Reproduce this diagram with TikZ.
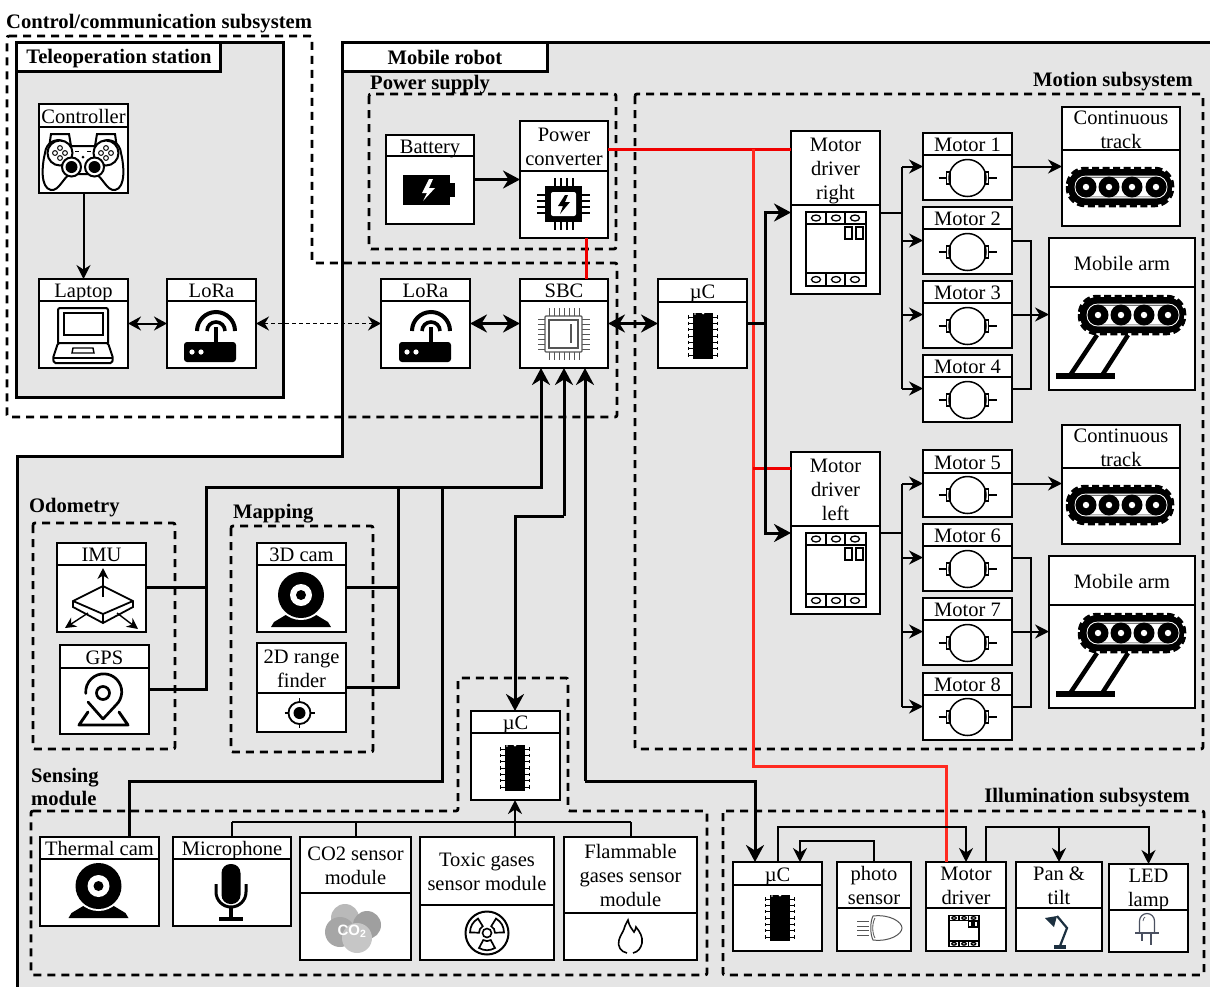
\documentclass[tikz,border=0pt]{standalone}
\usepackage{fontspec}
\setmainfont{Liberation Serif}
\newfontfamily\iconfont{Liberation Sans}
\usetikzlibrary{arrows.meta,calc}

% block with a title row on top
\newcommand{\block}[7]{%
    \node[blockbox, minimum width={(#4-#2)*1pt}, minimum height={(#5-#3)*1pt}]
        (#1) at ({(#2+#4)/2},{(#3+#5)/2}) {};
    \draw[rowline] (#2,#6) -- (#4,#6);
    \node[rowtext] (#1title) at ({(#2+#4)/2},{(#3+#6)/2+3.5})
        {\rule{0pt}{15pt}#7\rule[-6.5pt]{0pt}{6.5pt}};
}

\tikzset{
    pics/controllericon/.style={code={
        \draw[line width=2pt, fill=white] (-34,-12) -- (-32,-26) -- (-14,-26) -- (-12,-14)
            (34,-12) -- (32,-26) -- (14,-26) -- (12,-14);
        \draw[line width=2pt, fill=white] (-38,-7) .. controls (-41,5) and (-43,28) .. (-32,30)
            .. controls (-24,31) and (-20,18) .. (-13,14) -- (13,14)
            .. controls (20,18) and (24,31) .. (32,30) .. controls (43,28) and (41,5) .. (38,-7)
            .. controls (37,-17) and (28,-22) .. (20,-19) -- (12,-14) -- (-12,-14) -- (-20,-19)
            .. controls (-28,-22) and (-37,-17) .. cycle;
        \foreach \sx in {-1,1} {
            \draw[line width=2pt, fill=white] (\sx*23,-7) circle[radius=12.5];
            \foreach \dx/\dy in {-5/0,5/0,0/-5,0/5}
                \draw[line width=1pt] ({\sx*23+\dx},{-7+\dy}) circle[radius=2.4];
            \draw[line width=2pt, fill=white] (\sx*11.5,7) circle[radius=9.5];
            \fill (\sx*11.5,7) circle[radius=6];
            \fill (\sx*8,-9.5) rectangle (\sx*4,-8);
        }
        \fill (0,-3) circle[radius=1.5];
    }},
    pics/laptopicon/.style={code={
        \draw[line width=2pt, rounded corners=2pt] (-25,7) -- (-25,-28) -- (25,-28) -- (25,7);
        \draw[line width=1.7pt] (-19,-23) rectangle (20,-1);
        \draw[line width=2pt, rounded corners=1.5pt] (-25,7) -- (25,7) -- (30,22) -- (29,27) -- (-29,27) -- (-30,22) -- cycle;
        \draw[line width=1.4pt] (-30,22) -- (30,22);
        \draw[line width=1.4pt] (-10,12) -- (10,12) -- (11,17) -- (-11,17) -- cycle;
    }},
    pics/routericon/.style={code={
        \draw[line width=4pt] (-13,-5) arc[start angle=180, end angle=0, radius=19pt];
        \draw[line width=3.6pt] (-3,-5) arc[start angle=180, end angle=0, radius=9pt];
        \draw[line width=4pt] (6,-9) -- (6,8);
        \fill[rounded corners=3pt] (-26,6) rectangle (26,26);
        \fill[white] (-18,16) circle[radius=2.6] (-9,16) circle[radius=2.6];
    }},
    pics/batteryicon/.style={code={
        \fill (-27,-15) rectangle (20,15);
        \fill (20,-7) rectangle (25,7);
        \fill[white] (-1,-11) -- (-8,3) -- (-3,3) -- (-7,11) -- (5,-2) -- (-1,-2) -- (3,-11) -- cycle;
    }},
    pics/convertericon/.style={code={
        \foreach \p in {-9,-3,3,9} {
            \draw[line width=1.2pt] (\p,-26) -- (\p,26);
            \draw[line width=1.2pt] (-27,\p) -- (26,\p);
        }
        \fill (-19,-18) rectangle (18,18);
        \fill[white, rounded corners=2pt] (-13,-12) rectangle (12,12);
        \fill (1,-9) -- (-6,2) -- (-1,2) -- (-4,10) -- (6,-2) -- (1,-2) -- (4,-9) -- cycle;
    }},
    pics/cpuicon/.style={code={
        \foreach \p in {-15,-10,-5,0,5,10,15} {
            \draw[line width=1pt, chipgray] (\p,-26) -- (\p,-18) (\p,18) -- (\p,26);
            \draw[line width=1pt, chipgray] (-26,\p) -- (-18,\p) (18,\p) -- (26,\p);
        }
        \draw[line width=1.2pt, chipgray, fill=white, rounded corners=1pt] (-19,-18) rectangle (18,18);
        \draw[line width=1.4pt, chipgray] (-15,-14) rectangle (14,14);
        \draw[line width=1.2pt, chipgray] (7,-10) -- (7,9);
    }},
    pics/dipicon/.style={code={
        \fill (-10,-23) rectangle (10,23);
        \fill[white] (-8,-22) circle[radius=.8];
        \fill[white] (0,-23) circle[radius=1.5];
        \foreach \p in {-19,-12.7,-6.3,0,6.3,12.7,19} {
            \draw[line width=.9pt] (-15,\p) -- (-10,\p) (10,\p) -- (15,\p);
            \draw[line width=.9pt] (-14.5,\p-1.6) -- (-14.5,\p+1.6) (14.5,\p-1.6) -- (14.5,\p+1.6);
        }
    }},
    pics/drivericon/.style={code={
        \draw[line width=1.5pt] (-30,-37) rectangle (30,37);
        \draw[line width=1.4pt] (-30,-25) -- (30,-25) (-30,24) -- (30,24);
        \foreach \p in {-10,9} \draw[line width=1.4pt] (\p,-37) -- (\p,-25) (\p,24) -- (\p,37);
        \foreach \p in {-20,0,19} {
            \draw[line width=1.3pt] (\p,-31) ellipse[x radius=4.5, y radius=3];
            \draw[line width=1.3pt] (\p,30.5) ellipse[x radius=4.5, y radius=3];
        }
        \draw[line width=1.4pt] (9,-22) rectangle (16,-10);
        \draw[line width=1.4pt] (20,-22) rectangle (27,-10);
    }},
    pics/motoricon/.style={code={
        \draw[line width=1.2pt] (-29,0) -- (-21,0) (21,0) -- (29,0);
        \draw[line width=1.2pt] (-21,-6) rectangle (-17,6) (17,-6) rectangle (21,6);
        \draw[line width=1.5pt] (0,0) circle[radius=18.5];
    }},
    pics/trackicon/.style={code={
        \draw[line width=4.5pt, dash pattern=on 7pt off 3.5pt, fill=black, rounded corners=17pt] (-52,-18) rectangle (52,18);
        \fill[rounded corners=15pt] (-50,-16) rectangle (50,16);
        \draw[white, fill=white, line width=.8pt, rounded corners=10.5pt] (-45,-11) rectangle (47,11);
        \fill[black!85, rounded corners=10pt] (-44.3,-10.2) rectangle (46.3,10.2);
        \fill[white, rounded corners=9.5pt] (-43.5,-9.5) rectangle (45.5,9.5);
        \foreach \p in {-34,-11,12,36} {
            \fill (\p,0) circle[radius=10.5];
            \fill[white] (\p,0) circle[radius=3.2];
        }
    }},
    pics/armicon/.style={code={
        \pic at (10,1) {trackicon};
        \draw[line width=4.5pt] (-25,21) -- (-53,63) (6,21) -- (-21,63);
        \fill (-66,59) rectangle (-7,65);
    }},
    pics/camicon/.style={code={
        \fill (-30,32) -- (-27,27) -- (-12,18) -- (12,18) -- (27,27) -- (30,32) -- cycle;
        \fill[white] (0,0) circle[radius=25];
        \fill (0,0) circle[radius=23];
        \fill[white] (0,0) circle[radius=11];
        \fill (0,0) circle[radius=5];
    }},
    pics/imuicon/.style={code={
        \draw[line width=1.8pt, fill=white] (-29,1) -- (1,-14) -- (31,1) -- (31,7) -- (1,23) -- (-29,7) -- cycle;
        \draw[line width=1.8pt] (-29,1) -- (1,14) -- (31,1) (1,14) -- (1,23);
        \draw[line width=1.4pt, -{Stealth[length=11pt,width=11pt]}] (1,-3) -- (1,-32);
        \draw[line width=1.4pt, -{Stealth[length=11pt,width=11pt]}] (-14,13) -- (-37,28);
        \draw[line width=1.4pt, -{Stealth[length=11pt,width=11pt]}] (15,13) -- (36,29);
    }},
    pics/gpsicon/.style={code={
        \draw[line width=2.7pt, line cap=round] (0,26) -- (13,12) arc[start angle=-47, end angle=185, radius=18pt];
        \draw[line width=2.7pt, line cap=round] (-15,9) -- (0,26);
        \draw[line width=2.7pt] (0,0) circle[radius=6.5];
        \draw[line width=2.9pt, line join=round, line cap=round] (-15,19) -- (-24,32) -- (25,32) -- (16,19);
    }},
    pics/targeticon/.style={code={
        \draw[line width=1.8pt] (0,0) circle[radius=11];
        \fill (0,0) circle[radius=6];
        \draw[line width=1.8pt] (0,-15) -- (0,-11) (0,11) -- (0,15) (-15,0) -- (-11,0) (11,0) -- (15,0);
    }},
    pics/micicon/.style={code={
        \fill[rounded corners=9pt] (-9.5,-21) rectangle (9.5,19);
        \draw[line width=3pt] (-15,-1) -- (-15,7) arc[start angle=180, end angle=360, radius=15pt] -- (15,-1);
        \draw[line width=3.5pt] (0,22) -- (0,33) (-12,34) -- (12,34);
    }},
    pics/coicon/.style={code={
        \fill[gray!55] (-7,-12) circle[radius=14];
        \fill[gray!75] (15,-5) circle[radius=14];
        \fill[gray!70] (-12,2) circle[radius=15];
        \fill[gray!45] (5,8) circle[radius=15];
        \node[font=\iconfont\bfseries\fontsize{15}{15}\selectfont, text=white, inner sep=0pt] (coText) at (0,1) {CO\textsubscript{2}};
    }},
    pics/radiationicon/.style={code={
        \draw[line width=2pt] (0,0) circle[radius=21.5];
        \draw[line width=1.6pt] (0,0) circle[radius=4.5];
        \foreach \a in {-30,90,210}
            \draw[line width=1.7pt] (\a-28:8) -- (\a-28:17) to[bend left=28] (\a+28:17) -- (\a+28:8) to[bend right=28] cycle;
    }},
    pics/flameicon/.style={code={
        \draw[line width=1.6pt] (-3,16) .. controls (-9,15) and (-13,9) .. (-11,3)
            .. controls (-10,-1) and (-7,-5) .. (-6,-8) .. controls (-5,-12) and (-3,-15) .. (-2,-17)
            .. controls (-1,-11) and (2,-8) .. (4,-5) .. controls (5,-7) and (6,-8) .. (6,-10)
            .. controls (10,-5) and (13,0) .. (12,6) .. controls (11,11) and (8,15) .. (3,16);
    }},
    pics/headlighticon/.style={code={
        \draw[line width=1pt, chipgray] (-7,-12) .. controls (10,-14) and (22,-6) .. (22,0)
            .. controls (22,6) and (10,14) .. (-7,12) .. controls (-10,6) and (-10,-6) .. cycle;
        \draw[line width=.8pt, chipgray] (-5,-10) .. controls (-8,-5) and (-8,5) .. (-5,10);
        \foreach \p in {-7,-2,2,7} \draw[line width=.9pt, chipgray] (-23,\p) -- (-11,\p);
    }},
    pics/lampicon/.style={code={
        \fill[lampnavy] (-13,-12) -- (-1,-14) -- (-4,-3) -- cycle;
        \draw[line width=2.2pt, lampnavy] (-1,-14) -- (9,-2) -- (2,16);
        \fill[lampnavy] (-4,15) rectangle (8,19);
    }},
    pics/ledicon/.style={code={
        \draw[line width=1.2pt, lednavy] (-7.5,3) -- (-7.5,-9) arc[start angle=180, end angle=0, radius=7.5pt] -- (7.5,3);
        \draw[line width=1.4pt, lednavy] (-12,3) -- (12,3);
        \draw[line width=1.2pt, lednavy] (-5,3) -- (-5,11) (4,3) -- (4,15);
        \draw[line width=.7pt, lednavy] (-4,-9) .. controls (-4,-11) and (-3,-12) .. (-2,-13);
    }},
}

\definecolor{panelgray}{HTML}{E5E5E5}
\definecolor{chipgray}{HTML}{555555}
\definecolor{lampnavy}{HTML}{1C3040}
\definecolor{lednavy}{HTML}{4A5060}
\definecolor{powerred}{HTML}{F00000}
\definecolor{lowerred}{HTML}{FF2A20}

\begin{document}
\begin{tikzpicture}[x=1pt, y=-1pt,
        every node/.style={font=\fontsize{20.5}{24}\selectfont},
        blockbox/.style={draw, fill=white, line width=1.8pt, inner sep=0pt, outer sep=0pt},
        rowline/.style={line width=1.3pt},
        rowtext/.style={inner sep=0pt, align=center},
        tabbox/.style={draw, fill=white, line width=3pt, inner sep=0pt, outer sep=0pt},
        grouplabel/.style={inner sep=0pt, font=\bfseries\fontsize{20.6}{23}\selectfont, align=left},
        groupline/.style={line width=2.8pt, dash pattern=on 8pt off 6pt},
        wire/.style={line width=2pt},
        heavy/.style={line width=3pt},
        power/.style={line width=3pt, draw=powerred},
        smalltip/.style={-{Stealth[length=14pt,width=14pt]}},
        bigtip/.style={-{Stealth[length=17pt,width=18pt]}},
        smalltwo/.style={{Stealth[length=13pt,width=14pt]}-{Stealth[length=13pt,width=14pt]}},
        bigtwo/.style={{Stealth[length=17pt,width=18pt]}-{Stealth[length=17pt,width=18pt]}}]
    \useasboundingbox (0,0) rectangle (1210,986);
    \clip (0,0) rectangle (1210,986);

    % panels
    \draw[fill=panelgray, line width=3pt] (16,42) rectangle (283,397);
    \draw[fill=panelgray, line width=3pt] (342,42) -- (1216,42) -- (1216,992) -- (17,992) -- (17,456) -- (342,456) -- cycle;
    \node[tabbox, minimum width=204pt, minimum height=29pt] (teleTab) at (118,56.5) {};
    \node[tabbox, minimum width=205pt, minimum height=29pt] (robotTab) at (444.5,56.5) {};

    % groups
    \draw[groupline, rounded corners=2pt] (7,36) -- (312,36) -- (312,263) -- (617,263) -- (617,417) -- (7,417) -- cycle;
    \draw[groupline, rounded corners=2pt] (369,94) rectangle (616,249);
    \draw[groupline, rounded corners=2pt] (635,94) rectangle (1203,749);
    \draw[groupline, rounded corners=2pt] (33,523) rectangle (175,749);
    \draw[groupline, rounded corners=2pt] (231,526) rectangle (373,752);
    \draw[groupline, rounded corners=2pt] (31,811) -- (458,811) -- (458,678) -- (568,678) -- (568,811) -- (707,811) -- (707,975) -- (31,975) -- cycle;
    \draw[groupline, rounded corners=2pt] (723,811) rectangle (1204,975);

    % group labels
    \node[grouplabel, anchor=west] (controlLabel) at (6,24) {Control/communication subsystem};
    \node[grouplabel] (teleLabel) at (119,59) {Teleoperation station};
    \node[grouplabel] (robotLabel) at (445,57.5) {Mobile robot};
    \node[grouplabel, anchor=west] (powerLabel) at (370,85) {Power supply};
    \node[grouplabel, anchor=east] (motionLabel) at (1193,82) {Motion subsystem};
    \node[grouplabel, anchor=west] (odoLabel) at (29,508) {Odometry};
    \node[grouplabel, anchor=west] (mapLabel) at (233,514) {Mapping};
    \node[grouplabel, anchor=west] (senseLabel) at (31,787) {Sensing\\module};
    \node[grouplabel, anchor=east] (illumLabel) at (1190,798) {Illumination subsystem};

    % blocks
    \block{ctrl}{39}{104}{128}{193}{127}{Controller}
    \block{laptop}{39}{279}{128}{368}{301}{Laptop}
    \block{loraA}{167}{279}{256}{368}{301}{LoRa}
    \block{battery}{386}{135}{474}{224}{156}{Battery}
    \block{conv}{520}{121}{608}{238}{171}{Power\\converter}
    \block{loraB}{381}{279}{470}{368}{301}{LoRa}
    \block{sbc}{520}{279}{608}{368}{301}{SBC}
    \block{ucMotion}{658}{279}{747}{368}{302}{µC}
    \block{drvR}{791}{131}{880}{294}{205}{Motor\\driver\\right}
    \block{drvL}{791}{452}{880}{614}{526}{Motor\\driver\\left}
    \foreach \m/\y/\s in {1/133/155,2/207/229,3/281/303,4/355/377,5/450/473,6/524/546,7/598/620,8/673/695}
        \block{motor\m}{923}{\y}{1012}{\y+67}{\s}{Motor \m};
    \block{trackA}{1062}{107}{1180}{226}{150}{Continuous\\track}
    \block{armA}{1049}{238}{1195}{390}{287}{Mobile arm}
    \block{trackB}{1062}{425}{1180}{544}{468}{Continuous\\track}
    \block{armB}{1049}{556}{1195}{708}{605}{Mobile arm}
    \block{imu}{57}{543}{146}{632}{565}{IMU}
    \block{gps}{60}{645}{149}{734}{668}{GPS}
    \block{cam}{257}{543}{346}{632}{565}{3D cam}
    \block{range}{257}{643}{346}{732}{693}{2D range\\finder}
    \block{ucSense}{471}{711}{560}{800}{733}{µC}
    \block{thermal}{40}{837}{159}{926}{859}{Thermal cam}
    \block{mic}{173}{837}{291}{926}{859}{Microphone}
    \block{cotwo}{300}{837}{411}{960}{893}{CO2 sensor\\module}
    \block{toxic}{420}{837}{554}{960}{905}{Toxic gases\\sensor module}
    \block{flam}{564}{837}{697}{960}{913}{Flammable\\gases sensor\\module}
    \block{ucLight}{733}{862}{822}{951}{885}{µC}
    \block{photo}{837}{862}{911}{951}{908}{photo\\sensor}
    \block{drvLight}{926}{862}{1006}{951}{908}{Motor\\driver}
    \block{pan}{1016}{862}{1102}{951}{908}{Pan \&\\tilt}
    \block{led}{1109}{864}{1188}{952}{910}{LED\\lamp}

    % icons
    \pic at (83,160) {controllericon};
    \pic at (83,336) {laptopicon};
    \pic at (210,336) {routericon};
    \pic at (425,336) {routericon};
    \pic at (430,190) {batteryicon};
    \pic at (564,204) {convertericon};
    \pic at (564,334) {cpuicon};
    \pic at (703,336) {dipicon};
    \pic at (515,768) {dipicon};
    \pic at (780,918) {dipicon};
    \pic at (836,249) {drivericon};
    \pic at (836,570) {drivericon};
    \pic[xscale=.5, yscale=.42] at (964,931) {drivericon};
    \foreach \y in {178,252,326,400,495,569,643,717}
        \pic at (967.5,\y) {motoricon};
    \pic at (1120,187) {trackicon};
    \pic at (1120,505) {trackicon};
    \pic at (1122,314) {armicon};
    \pic at (1122,632) {armicon};
    \pic at (102,600) {imuicon};
    \pic at (103,693) {gpsicon};
    \pic at (301,595) {camicon};
    \pic at (299.5,713) {targeticon};
    \pic at (98.5,886) {camicon};
    \pic at (231,885) {micicon};
    \pic at (352,930) {coicon};
    \pic at (487,933) {radiationicon};
    \pic at (630,937) {flameicon};
    \pic at (880,928) {headlighticon};
    \pic at (1058,930) {lampicon};
    \pic at (1147,930) {ledicon};

    % bends
    \coordinate (redTop) at (753,149);
    \coordinate (redBranch) at (753,468);
    \coordinate (redTurn) at (753,766);
    \coordinate (redDrop) at (946,766);
    \coordinate (redSbc) at (586,238);
    \coordinate (ucBus) at (765,323);
    \coordinate (busR) at (902,212);
    \coordinate (busL) at (902,534);
    \coordinate (joinA) at (1031,241);
    \coordinate (joinB) at (1031,558);
    \coordinate (odoBus) at (206,487);
    \coordinate (mapBus) at (398,487);
    \coordinate (thermBus) at (442,487);
    \coordinate (sbcA) at (541,487);
    \coordinate (sbcB) at (564,516);
    \coordinate (ucBend) at (515,516);
    \coordinate (sbcC) at (585,781);
    \coordinate (lightBend) at (755,781);
    \coordinate (thermBend) at (129,781);
    \coordinate (gasBus) at (515,822);
    \coordinate (loopA) at (778,827);
    \coordinate (loopB) at (800,841);
    \coordinate (loopC) at (874,841);
    \coordinate (loopD) at (966,827);
    \coordinate (loopE) at (986,827);
    \coordinate (loopF) at (1059,827);

    % power
    \draw[power] (conv.south -| redSbc) -- (sbc.north -| redSbc);
    \draw[power] (conv.east |- redTop) -- (drvR.west |- redTop);
    \draw[power, draw=lowerred] (redTop) -- (redTurn) -- (redDrop) -- (drvLight.north -| redDrop);
    \draw[power] (redBranch) -- (drvL.west |- redBranch);

    % signals
    \draw[wire, smalltip] (ctrl.south) -- (laptop.north);
    \draw[wire, smalltwo] (laptop.east) -- (loraA.west);
    \draw[wire, smalltwo, line width=1.4pt, dash pattern=on 4pt off 3pt] (loraA.east) -- (loraB.west);
    \draw[heavy, bigtip] (battery.east) -- (conv.west);
    \draw[heavy, bigtwo] (loraB.east) -- (sbc.west);
    \draw[heavy, bigtwo] (sbc.east) -- (ucMotion.west);
    \draw[heavy] (ucMotion.east) -- (ucBus |- ucMotion.east);
    \draw[heavy, bigtip] (ucBus) -- (ucBus |- drvR.west) -- (drvR.west);
    \draw[heavy, bigtip] (ucBus) -- (ucBus |- drvL.west) -- (drvL.west);

    \draw[wire] (drvR.east) -- (busR |- drvR.east);
    \draw[wire] (busR |- motor1.west) -- (busR |- motor4.west);
    \foreach \m in {1,2,3,4}
        \draw[wire, smalltip] (busR |- motor\m.west) -- (motor\m.west);
    \draw[wire] (drvL.east) -- (busL |- drvL.east);
    \draw[wire] (busL |- motor5.west) -- (busL |- motor8.west);
    \foreach \m in {5,6,7,8}
        \draw[wire, smalltip] (busL |- motor\m.west) -- (motor\m.west);
    \draw[wire, smalltip] (motor1.east) -- (trackA.west |- motor1.east);
    \draw[wire, smalltip] (motor5.east) -- (trackB.west |- motor5.east);
    \draw[wire] (motor2.east) -- (joinA |- motor2.east) -- (joinA |- motor4.east) -- (motor4.east);
    \draw[wire, smalltip] (motor3.east) -- (armA.west |- motor3.east);
    \draw[wire] (motor6.east) -- (joinB |- motor6.east) -- (joinB |- motor8.east) -- (motor8.east);
    \draw[wire, smalltip] (motor7.east) -- (armB.west |- motor7.east);

    \draw[heavy] (imu.east) -- (odoBus |- imu.east);
    \draw[heavy, bigtip] (gps.east) -- (odoBus |- gps.east) -- (odoBus) -- (sbcA) -- (sbc.south -| sbcA);
    \draw[heavy] (cam.east) -- (mapBus |- cam.east);
    \draw[heavy] (range.east) -- (mapBus |- range.east) -- (mapBus);
    \draw[heavy] (thermal.north -| thermBend) -- (thermBend) -- (thermBus |- thermBend) -- (thermBus);
    \draw[heavy, bigtip] (sbcB) -- (sbc.south -| sbcB);
    \draw[heavy, bigtip] (sbcB) -- (ucBend) -- (ucSense.north -| ucBend);
    \draw[heavy, bigtip] (sbcC) -- (sbc.south -| sbcC);
    \draw[heavy, bigtip] (sbcC) -- (lightBend) -- (ucLight.north -| lightBend);

    \draw[wire] (gasBus -| mic.north) -- (gasBus -| flam.north);
    \draw[wire] (mic.north) -- (gasBus -| mic.north);
    \draw[wire] (cotwo.north) -- (gasBus -| cotwo.north);
    \draw[wire] (flam.north) -- (gasBus -| flam.north);
    \draw[wire, smalltip] (toxic.north -| gasBus) -- (ucSense.south -| gasBus);

    \draw[wire, smalltip] (ucLight.north -| loopA) -- (loopA) -- (loopD) -- (drvLight.north -| loopD);
    \draw[wire, smalltip] (photo.north -| loopC) -- (loopC) -- (loopB) -- (ucLight.north -| loopB);
    \draw[wire, smalltip] (drvLight.north -| loopE) -- (loopE) -- (loopE -| led.north) -- (led.north);
    \draw[wire, smalltip] (loopF) -- (pan.north -| loopF);
\end{tikzpicture}
\end{document}
